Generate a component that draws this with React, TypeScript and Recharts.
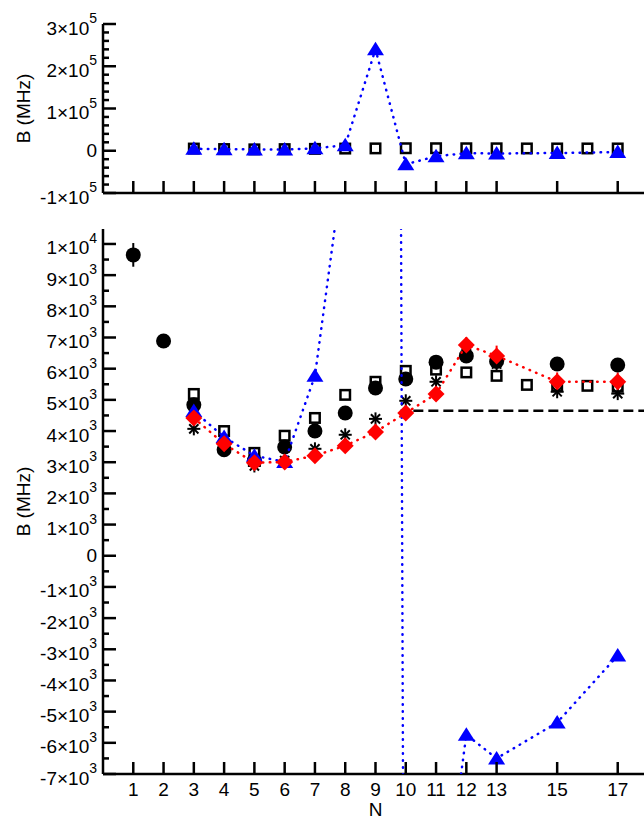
import React from 'react';
import { ComposedChart, Scatter, XAxis, YAxis, ReferenceLine, ErrorBar, Label } from 'recharts';

const FONT = '"Liberation Sans", Arial, Helvetica, sans-serif';
const BLUE = '#0000ff';
const RED = '#ff0000';

// N values with tick marks / labels
const nTicks = [1, 2, 3, 4, 5, 6, 7, 8, 9, 10, 11, 12, 13, 15, 17];

// filled circles
const circles = [
  { n: 1, v: 9650, err: 380 },
  { n: 2, v: 6890, err: 0 },
  { n: 3, v: 4840, err: 0 },
  { n: 4, v: 3400, err: 0 },
  { n: 5, v: 3050, err: 0 },
  { n: 6, v: 3490, err: 0 },
  { n: 7, v: 4000, err: 0 },
  { n: 8, v: 4580, err: 0 },
  { n: 9, v: 5380, err: 0 },
  { n: 10, v: 5670, err: 0 },
  { n: 11, v: 6210, err: 0 },
  { n: 12, v: 6410, err: 0 },
  { n: 13, v: 6230, err: 0 },
  { n: 15, v: 6150, err: 0 },
  { n: 17, v: 6120, err: 0 },
];

// open squares
const squares = [
  { n: 3, v: 5190 },
  { n: 4, v: 4000 },
  { n: 5, v: 3300 },
  { n: 6, v: 3850 },
  { n: 7, v: 4420 },
  { n: 8, v: 5160 },
  { n: 9, v: 5580 },
  { n: 10, v: 5930 },
  { n: 11, v: 5970 },
  { n: 12, v: 5880 },
  { n: 13, v: 5770 },
  { n: 14, v: 5480 },
  { n: 15, v: 5440 },
  { n: 16, v: 5450 },
  { n: 17, v: 5420 },
];

// asterisks
const stars = [
  { n: 3, v: 4070 },
  { n: 4, v: 3450 },
  { n: 5, v: 2880 },
  { n: 6, v: 3050 },
  { n: 7, v: 3430 },
  { n: 8, v: 3880 },
  { n: 9, v: 4390 },
  { n: 10, v: 4970 },
  { n: 11, v: 5580 },
  { n: 12, v: 6500 },
  { n: 13, v: 6150 },
  { n: 15, v: 5260 },
  { n: 17, v: 5200 },
];

// blue triangles (dotted line)
const triangles = [
  { n: 3, v: 4640 },
  { n: 4, v: 3810 },
  { n: 5, v: 3210 },
  { n: 6, v: 3010 },
  { n: 7, v: 5770 },
  { n: 8, v: 13000 },
  { n: 9, v: 240000 },
  { n: 10, v: -32000 },
  { n: 11, v: -13000 },
  { n: 12, v: -5740 },
  { n: 13, v: -6500 },
  { n: 15, v: -5350 },
  { n: 17, v: -3200 },
];

// red diamonds (dotted line)
const diamonds = [
  { n: 3, v: 4420, err: 0 },
  { n: 4, v: 3590, err: 0 },
  { n: 5, v: 2980, err: 0 },
  { n: 6, v: 3010, err: 0 },
  { n: 7, v: 3210, err: 0 },
  { n: 8, v: 3530, err: 0 },
  { n: 9, v: 3970, err: 0 },
  { n: 10, v: 4580, err: 0 },
  { n: 11, v: 5190, err: 0 },
  { n: 12, v: 6760, err: 250 },
  { n: 13, v: 6410, err: 330 },
  { n: 15, v: 5580, err: 300 },
  { n: 17, v: 5580, err: 300 },
];

// dashed reference level
const refLevel = 4650;
const refStartN = 10.25;

// axis ticks
const topYMajor = [-100000, 0, 100000, 200000, 300000];
const topYMinor = [
  -80000, -60000, -40000, -20000, 20000, 40000, 60000, 80000,
  120000, 140000, 160000, 180000, 220000, 240000, 260000, 280000,
];
const botYMajor = [
  -7000, -6000, -5000, -4000, -3000, -2000, -1000, 0,
  1000, 2000, 3000, 4000, 5000, 6000, 7000, 8000, 9000, 10000,
];
const botYMinor = [
  -6500, -5500, -4500, -3500, -2500, -1500, -500, 500,
  1500, 2500, 3500, 4500, 5500, 6500, 7500, 8500, 9500,
];

const SciLabel = ({ x, y, value }: { x: number; y: number; value: number }) => {
  if (value === 0) {
    return (
      <text x={x} y={y} textAnchor="end" dominantBaseline="central" fontSize={19} fontFamily={FONT} fill="#000">
        0
      </text>
    );
  }
  const exp = Math.floor(Math.log10(Math.abs(value)) + 1e-9);
  const mant = Math.round(value / Math.pow(10, exp));
  return (
    <text x={x} y={y + 4} textAnchor="end" dominantBaseline="central" fontSize={19} fontFamily={FONT} fill="#000">
      {`${mant}×10`}
      <tspan dy={-10} fontSize={14}>{exp}</tspan>
    </text>
  );
};

const leftTick = (majors: number[]) => (props: any) => {
  const { x, y, payload } = props;
  const major = majors.includes(payload.value);
  return (
    <g>
      <line x1={x} x2={x + (major ? 13 : 6)} y1={y} y2={y} stroke="#000" strokeWidth={2.5} />
      {major && <SciLabel x={x - 6} y={y} value={payload.value} />}
    </g>
  );
};

const rightTick = (majors: number[]) => (props: any) => {
  const { x, y, payload } = props;
  const major = majors.includes(payload.value);
  return <line x1={x} x2={x - (major ? 10 : 4)} y1={y} y2={y} stroke="#000" strokeWidth={2.5} />;
};

const bottomTick = (withLabel: boolean) => (props: any) => {
  const { x, y, payload } = props;
  return (
    <g>
      <line x1={x} x2={x} y1={y} y2={y - 12} stroke="#000" strokeWidth={2.5} />
      {withLabel && (
        <text x={x} y={y + 15} textAnchor="middle" dominantBaseline="central" fontSize={19} fontFamily={FONT} fill="#000">
          {payload.value}
        </text>
      )}
    </g>
  );
};

const topTick = (props: any) => {
  const { x, y } = props;
  return <line x1={x} x2={x} y1={y} y2={y + 12} stroke="#000" strokeWidth={2.5} />;
};

const yTitle = (props: any) => {
  const vb = props.viewBox;
  const cx = vb.x + 23;
  const cy = vb.y + vb.height / 2;
  return (
    <text
      x={cx}
      y={cy}
      transform={`rotate(-90 ${cx} ${cy})`}
      textAnchor="middle"
      dominantBaseline="central"
      fontSize={19}
      fontFamily={FONT}
      fill="#000"
    >
      B (MHz)
    </text>
  );
};

const nTitle = (props: any) => {
  const vb = props.viewBox;
  return (
    <text
      x={vb.x + vb.width / 2}
      y={vb.y + 35}
      textAnchor="middle"
      dominantBaseline="central"
      fontSize={19}
      fontFamily={FONT}
      fill="#000"
    >
      N
    </text>
  );
};

const CircleDot = (p: any) => <circle cx={p.cx} cy={p.cy} r={7.5} fill="#000" />;
const SquareDot = (p: any) => (
  <rect x={p.cx - 4.75} y={p.cy - 4.75} width={9.5} height={9.5} fill="none" stroke="#000" strokeWidth={2.5} />
);
const TriDot = (p: any) => (
  <polygon
    points={`${p.cx},${p.cy - 7.5} ${p.cx - 8.5},${p.cy + 6} ${p.cx + 8.5},${p.cy + 6}`}
    fill={BLUE}
  />
);
const DiamondDot = (p: any) => (
  <polygon
    points={`${p.cx},${p.cy - 8.5} ${p.cx + 8.5},${p.cy} ${p.cx},${p.cy + 8.5} ${p.cx - 8.5},${p.cy}`}
    fill={RED}
  />
);
const StarDot = (p: any) => {
  const r = 6.5;
  const d = r * 0.707;
  return (
    <g stroke="#000" strokeWidth={2}>
      <line x1={p.cx} x2={p.cx} y1={p.cy - r} y2={p.cy + r} />
      <line x1={p.cx - r} x2={p.cx + r} y1={p.cy} y2={p.cy} />
      <line x1={p.cx - d} x2={p.cx + d} y1={p.cy - d} y2={p.cy + d} />
      <line x1={p.cx - d} x2={p.cx + d} y1={p.cy + d} y2={p.cy - d} />
    </g>
  );
};

const dotted = (color: string) => ({
  stroke: color,
  strokeWidth: 2.5,
  strokeDasharray: '0.5 6.5',
  strokeLinecap: 'round' as const,
  fill: 'none',
});

const axisLine = { stroke: '#000', strokeWidth: 2.5 };

const CHART_W = 670;

export default function App() {
  return (
    <div
      style={{
        position: 'fixed',
        left: 0,
        top: 0,
        width: 644,
        height: 819,
        overflow: 'hidden',
        background: '#fff',
      }}
    >
      <div style={{ position: 'absolute', left: 0, top: 0 }}>
        <ComposedChart width={CHART_W} height={208} margin={{ top: 24, right: 22, bottom: 0, left: 0 }}>
          <XAxis
            xAxisId="x"
            dataKey="n"
            type="number"
            domain={[0, 18]}
            allowDataOverflow
            ticks={nTicks}
            interval={0}
            height={15}
            tickSize={0}
            tickMargin={0}
            tickLine={false}
            axisLine={axisLine}
            tick={bottomTick(false)}
          />
          <XAxis
            xAxisId="xt"
            orientation="top"
            type="number"
            domain={[0, 18]}
            allowDataOverflow
            ticks={nTicks}
            interval={0}
            height={0}
            tickSize={0}
            tickMargin={0}
            tickLine={false}
            axisLine={axisLine}
            tick={topTick}
          />
          <YAxis
            yAxisId="y"
            dataKey="v"
            type="number"
            domain={[-100000, 300000]}
            allowDataOverflow
            ticks={[...topYMajor, ...topYMinor]}
            interval={0}
            width={103}
            tickSize={0}
            tickMargin={0}
            tickLine={false}
            axisLine={axisLine}
            tick={leftTick(topYMajor)}
          >
            <Label content={yTitle} />
          </YAxis>
          <YAxis
            yAxisId="yr"
            orientation="right"
            type="number"
            domain={[-100000, 300000]}
            allowDataOverflow
            ticks={[...topYMajor, ...topYMinor]}
            interval={0}
            width={0}
            tickSize={0}
            tickMargin={0}
            tickLine={false}
            axisLine={axisLine}
            tick={rightTick(topYMajor)}
          />
          <Scatter xAxisId="x" yAxisId="y" data={squares} shape={SquareDot} isAnimationActive={false} />
          <Scatter
            xAxisId="x"
            yAxisId="y"
            data={triangles}
            shape={TriDot}
            line={dotted(BLUE)}
            isAnimationActive={false}
          />
        </ComposedChart>
      </div>

      <div style={{ position: 'absolute', left: 0, top: 208 }}>
        <ComposedChart width={CHART_W} height={611} margin={{ top: 21, right: 22, bottom: 0, left: 0 }}>
          <XAxis
            xAxisId="x"
            dataKey="n"
            type="number"
            domain={[0, 18]}
            allowDataOverflow
            ticks={nTicks}
            interval={0}
            height={45}
            tickSize={0}
            tickMargin={0}
            tickLine={false}
            axisLine={axisLine}
            tick={bottomTick(true)}
          >
            <Label content={nTitle} />
          </XAxis>
          <XAxis
            xAxisId="xt"
            orientation="top"
            type="number"
            domain={[0, 18]}
            allowDataOverflow
            ticks={nTicks}
            interval={0}
            height={0}
            tickSize={0}
            tickMargin={0}
            tickLine={false}
            axisLine={axisLine}
            tick={topTick}
          />
          <YAxis
            yAxisId="y"
            dataKey="v"
            type="number"
            domain={[-7000, 10480]}
            allowDataOverflow
            ticks={[...botYMajor, ...botYMinor]}
            interval={0}
            width={103}
            tickSize={0}
            tickMargin={0}
            tickLine={false}
            axisLine={axisLine}
            tick={leftTick(botYMajor)}
          >
            <Label content={yTitle} />
          </YAxis>
          <YAxis
            yAxisId="yr"
            orientation="right"
            type="number"
            domain={[-7000, 10480]}
            allowDataOverflow
            ticks={[...botYMajor, ...botYMinor]}
            interval={0}
            width={0}
            tickSize={0}
            tickMargin={0}
            tickLine={false}
            axisLine={axisLine}
            tick={rightTick(botYMajor)}
          />
          <ReferenceLine
            xAxisId="x"
            yAxisId="y"
            segment={[
              { x: refStartN, y: refLevel },
              { x: 18, y: refLevel },
            ]}
            stroke="#000"
            strokeWidth={2.5}
            strokeDasharray="10 5"
            ifOverflow="hidden"
          />
          <Scatter xAxisId="x" yAxisId="y" data={squares} shape={SquareDot} isAnimationActive={false} />
          <Scatter xAxisId="x" yAxisId="y" data={circles} shape={CircleDot} isAnimationActive={false}>
            <ErrorBar dataKey="err" direction="y" width={0} stroke="#000" strokeWidth={2} />
          </Scatter>
          <Scatter xAxisId="x" yAxisId="y" data={stars} shape={StarDot} isAnimationActive={false} />
          <Scatter
            xAxisId="x"
            yAxisId="y"
            data={triangles}
            shape={TriDot}
            line={dotted(BLUE)}
            isAnimationActive={false}
          />
          <Scatter
            xAxisId="x"
            yAxisId="y"
            data={diamonds}
            shape={DiamondDot}
            line={dotted(RED)}
            isAnimationActive={false}
          >
            <ErrorBar dataKey="err" direction="y" width={0} stroke={RED} strokeWidth={2} />
          </Scatter>
        </ComposedChart>
      </div>
    </div>
  );
}
